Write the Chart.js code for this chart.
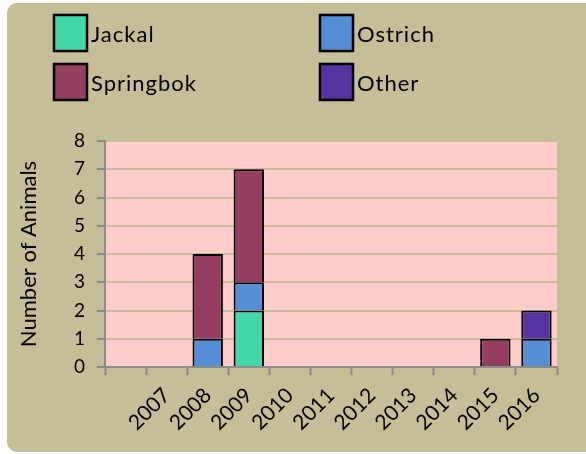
<!DOCTYPE html>
<html>
<head>
<meta charset="utf-8">
<script src="https://cdn.jsdelivr.net/npm/chart.js@4"></script>
<style>
  html, body { margin: 0; padding: 0; background: #ffffff; }
  #wrap { width: 586px; height: 454px; position: relative; }
</style>
</head>
<body>
<div id="wrap"><canvas id="animalChart" width="586" height="454"></canvas></div>
<script>
// Data
const years = ['', '2007', '2008', '2009', '2010', '2011', '2012', '2013', '2014', '2015', '2016'];
const jackal = [null, null, null, 2, null, null, null, null, null, null, null];
const ostrich = [null, null, 1, 1, null, null, null, null, null, null, 1];
const springbok = [null, null, 3, 4, null, null, null, null, null, 1, null];
const other = [null, null, null, null, null, null, null, null, null, null, 1];
const yTicks = [0, 1, 2, 3, 4, 5, 6, 7, 8];

const FONT = 'Lato, "Open Sans", sans-serif';
const BEIGE = '#C5BE97';
const PINK = '#FFCCCC';
const GRID = '#C9BC97';
const AXIS = '#8C8C8C';

// Background panel + pink plot area
const backgroundPlugin = {
    id: 'backgrounds',
    beforeDraw(chart) {
        const ctx = chart.ctx;
        const a = chart.chartArea;
        ctx.save();
        ctx.fillStyle = BEIGE;
        ctx.beginPath();
        ctx.roundRect(7, 3, 586 - 7 + 10, 452 - 3, 10);
        ctx.fill();
        ctx.fillStyle = PINK;
        ctx.fillRect(a.left, a.top, a.right - a.left, a.bottom - a.top);
        ctx.restore();
    }
};

// Two column legend like the original
const legendPlugin = {
    id: 'gridLegend',
    afterDraw(chart) {
        const ctx = chart.ctx;
        const cols = [54, 320];
        const rows = [15, 64];
        ctx.save();
        ctx.font = '22px ' + FONT;
        ctx.letterSpacing = '1px';
        ctx.textBaseline = 'middle';
        ctx.textAlign = 'left';
        chart.data.datasets.forEach((ds, i) => {
            const x = cols[i % 2];
            const y = rows[Math.floor(i / 2)];
            ctx.fillStyle = ds.backgroundColor;
            ctx.fillRect(x, y, 33, 36);
            ctx.lineWidth = 2.5;
            ctx.strokeStyle = '#000000';
            ctx.strokeRect(x, y, 33, 36);
            ctx.fillStyle = '#000000';
            ctx.fillText(ds.label, x + 37, y + 20);
        });
        ctx.restore();
    }
};

const ctx = document.getElementById('animalChart').getContext('2d');
const animalChart = new Chart(ctx, {
    type: 'bar',
    data: {
        labels: years,
        datasets: [
            { label: 'Jackal', data: jackal, backgroundColor: '#43D6A8' },
            { label: 'Ostrich', data: ostrich, backgroundColor: '#558ED5' },
            { label: 'Springbok', data: springbok, backgroundColor: '#953E62' },
            { label: 'Other', data: other, backgroundColor: '#5433A0' }
        ].map(ds => Object.assign(ds, {
            borderColor: '#000000',
            borderWidth: 2,
            barPercentage: 0.74,
            categoryPercentage: 1
        }))
    },
    options: {
        responsive: false,
        animation: false,
        devicePixelRatio: 1,
        layout: { padding: { top: 141, right: 29, bottom: 10, left: 14 } },
        plugins: {
            legend: { display: false },
            tooltip: { enabled: false }
        },
        scales: {
            x: {
                stacked: true,
                offset: true,
                grid: {
                    offset: true,
                    drawOnChartArea: false,
                    drawTicks: true,
                    tickLength: 8,
                    tickWidth: 2,
                    tickColor: AXIS
                },
                border: { color: AXIS, width: 2 },
                ticks: {
                    color: '#000000',
                    font: { family: FONT, size: 21 },
                    minRotation: 45,
                    maxRotation: 45,
                    padding: 8
                },
                afterFit(scale) { scale.height = 77; }
            },
            y: {
                stacked: true,
                min: 0,
                max: 8,
                grid: {
                    color: GRID,
                    lineWidth: 2,
                    tickLength: 8,
                    tickWidth: 2,
                    tickColor: AXIS
                },
                border: { color: AXIS, width: 2 },
                afterBuildTicks(scale) {
                    scale.ticks = yTicks.map(v => ({ value: v }));
                },
                ticks: {
                    color: '#000000',
                    font: { family: FONT, size: 19 },
                    padding: 12
                },
                title: {
                    display: true,
                    text: 'Number of Animals',
                    color: '#000000',
                    font: { family: FONT, size: 22 },
                    padding: { top: 2, bottom: 0 }
                },
                afterFit(scale) { scale.width = 91; }
            }
        }
    },
    plugins: [backgroundPlugin, legendPlugin]
});
</script>
</body>
</html>
